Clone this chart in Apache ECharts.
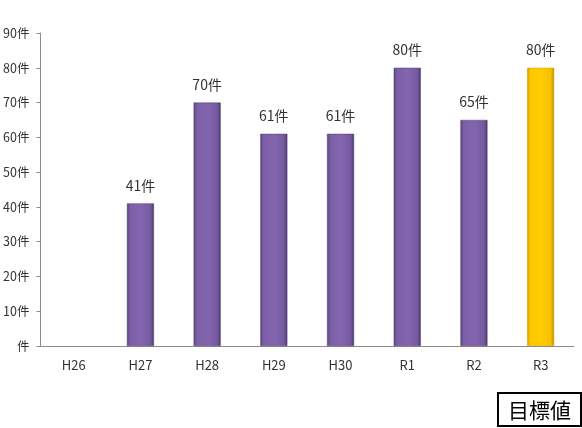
<!DOCTYPE html>
<html><head><meta charset="utf-8">
<script src="https://cdn.jsdelivr.net/npm/echarts@6/dist/echarts.min.js"></script>
<style>html,body{margin:0;padding:0;background:#fff}#c{width:582px;height:428px}</style>
</head><body><div id="c"></div>
<script>
const categories = ['H26','H27','H28','H29','H30','R1','R2','R3'];
const values = [null, 41, 70, 61, 61, 80, 65, 80];
const targetIndex = 7;
const yTicks = [0,10,20,30,40,50,60,70,80,90];

const FONT = '"Noto Sans CJK JP", "Noto Sans", sans-serif';
const purple = {type:'linear',x:0,y:0,x2:1,y2:0,colorStops:[
  {offset:0,color:'#5a4578'},{offset:0.12,color:'#7b5fa6'},{offset:0.5,color:'#8466b0'},{offset:0.88,color:'#7459a0'},{offset:1,color:'#4b3866'}]};
const yellow = {type:'linear',x:0,y:0,x2:1,y2:0,colorStops:[
  {offset:0,color:'#c99a00'},{offset:0.12,color:'#ffc800'},{offset:0.5,color:'#ffcc00'},{offset:0.88,color:'#f5c000'},{offset:1,color:'#b88c00'}]};

const chart = echarts.init(document.getElementById('c'));
chart.setOption({
  animation:false,
  grid:{left:38,right:8,top:33,bottom:82,containLabel:false},
  xAxis:{type:'category',data:categories,
    axisLine:{lineStyle:{color:'#8c8c8c',width:1}},
    axisTick:{show:false},
    axisLabel:{color:'#333',fontFamily:FONT,fontSize:13,margin:13}},
  yAxis:{type:'value',min:0,max:90,interval:10,
    splitLine:{show:false},
    axisLine:{show:true,lineStyle:{color:'#8c8c8c',width:1}},
    axisTick:{show:true,length:4,lineStyle:{color:'#8c8c8c'}},
    axisLabel:{color:'#333',fontFamily:FONT,fontSize:12.5,margin:11,
      formatter:v=> (v===0?'':v)+'件'}},
  series:[{type:'bar',barWidth:27,
    data:values.map((v,i)=>({value:v,itemStyle:{color:i===targetIndex?yellow:purple,
      borderColor:i===targetIndex?'#d4a200':'#4d3a6a',borderWidth:0.5}})),
    label:{show:true,position:'top',distance:11,color:'#333',fontFamily:FONT,fontSize:14,
      formatter:p=>p.value+'件'}}],
  graphic:[{type:'group',left:497,top:392,children:[
    {type:'rect',shape:{x:0,y:0,width:83,height:33},style:{fill:'#fff',stroke:'#000',lineWidth:2}},
    {type:'text',x:41.5,y:17,style:{text:'目標値',font:'21px '+FONT,fill:'#000',align:'center',verticalAlign:'middle'}}
  ]}]
});
</script></body></html>
